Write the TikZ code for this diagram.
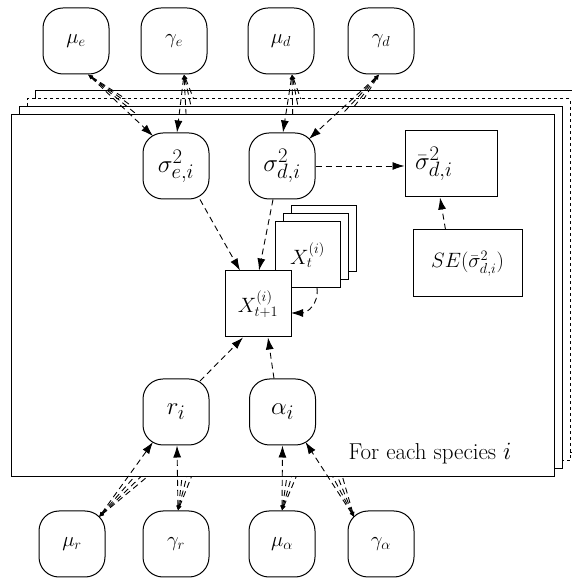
\documentclass[tikz,border=0pt]{standalone}
\usetikzlibrary{arrows.meta}
\begin{document}
\begin{tikzpicture}[x=1pt,y=1pt,
  lbf/.style={font=\Huge},
  rnode/.style={draw, line width=1pt, rounded corners=20pt, minimum width=66pt, minimum height=66pt, fill=white, inner sep=0pt, lbf},
  hnode/.style={rnode, font=\huge},
  bnode/.style={draw, line width=1pt, fill=white, inner sep=0pt, lbf},
  plate/.style={draw, line width=1pt, fill=white, minimum width=543pt, minimum height=362pt, inner sep=0pt},
  dsh/.style={line width=0.9pt, dash pattern=on 6pt off 4pt},
  main/.style={dsh, {Latex[length=5pt,width=4pt]}-{Latex[length=12pt,width=8pt]}},
  extra/.style={dsh, {Latex[length=5pt,width=4pt]}-},
  inner/.style={dsh, -{Latex[length=12pt,width=8pt]}}
]
\useasboundingbox (0,0) rectangle (571,578);
% hyper-parameter nodes
\node[hnode] (mue)  at (76,537)  {$\mu_e$};
\node[hnode] (game) at (174,537) {$\gamma_e$};
\node[hnode] (mud)  at (281,537) {$\mu_d$};
\node[hnode] (gamd) at (381,537) {$\gamma_d$};
\node[hnode] (mur)  at (72,34)   {$\mu_r$};
\node[hnode] (gamr) at (176,34)  {$\gamma_r$};
\node[hnode] (mua)  at (282,34)  {$\mu_\alpha$};
\node[hnode] (gama) at (381,34)  {$\gamma_\alpha$};
\coordinate (mueT)  at ([xshift=12pt]mue.south);
\coordinate (gameT) at ([xshift=10pt]game.south);
\coordinate (mudT)  at ([xshift=11pt]mud.south);
\coordinate (gamdT) at ([xshift=-2pt]gamd.south);
\coordinate (murT)  at ([shift={(27,27)}]mur.center);
\coordinate (gamrT) at ([xshift=2pt]gamr.north);
\coordinate (muaT)  at (mua.north);
\coordinate (gamaT) at ([shift={(-27,27)}]gama.center);
% back plates with their connectors
\foreach \k/\st in {3/solid,2/dashed,1/solid}{
  \node[plate,\st] (plate\k) at ({282.5+8*\k},{282+8*\k}) {};
  \draw[extra] (mueT)  -- ({153+10*\k},{442});
  \draw[extra] (gameT) -- ({177+10*\k},{445});
  \draw[extra] (mudT)  -- ({283+10*\k},{445});
  \draw[extra] (gamdT) -- ({309+10*\k},{439});
  \draw[extra] (murT)  -- ({153+12*\k},{136});
  \draw[extra] (gamrT) -- ({177+9*\k},{133});
  \draw[extra] (muaT)  -- ({282.5+9*\k},{133});
  \draw[extra] (gamaT) -- ({305.5+9*\k},{136});
}
% front plate
\node[plate] (plate0) at (282.5,282) {};
\node[anchor=base east, font=\fontsize{23}{27}\selectfont] (lbl) at (515,118) {For each species $i$};
\node[rnode] (sige)  at (176,412) {$\sigma^2_{e,i}$};
\node[rnode] (sigd)  at (282,412) {$\sigma^2_{d,i}$};
\node[rnode] (ri)    at (176,166) {$r_i$};
\node[rnode] (alpha) at (282.5,166) {$\alpha_i$};
\node[bnode, minimum width=92pt, minimum height=66pt, text width=72pt, align=left] (sigbar) at (451,414) {$\bar\sigma^2_{d,i}$};
\node[bnode, font=\huge, minimum width=109pt, minimum height=67pt] (se) at (467.5,314.5) {$SE(\bar\sigma^2_{d,i})$};
\node[bnode, minimum width=65pt, minimum height=66pt] (xt3) at (323.5,339) {};
\node[bnode, minimum width=65pt, minimum height=66pt] (xt2) at (315.5,331) {};
\node[bnode, font=\huge, minimum width=65pt, minimum height=66pt] (xt)  at (307.5,323) {$X_t^{(i)}$};
\node[bnode, font=\huge, minimum width=66pt, minimum height=66pt] (xt1) at (258,274) {$X_{t+1}^{(i)}$};
% hyper connectors of the front plate
\draw[main] (mueT)  -- ([shift={(-23,30)}]sige.center);
\draw[main] (gameT) -- ([xshift=1pt]sige.north);
\draw[main] (mudT)  -- ([xshift=1pt]sigd.north);
\draw[main] (gamdT) -- ([shift={(27,27)}]sigd.center);
\draw[main] (murT)  -- ([shift={(-23,-30)}]ri.center);
\draw[main] (gamrT) -- ([xshift=1pt]ri.south);
\draw[main] (muaT)  -- (alpha.south);
\draw[main] (gamaT) -- ([shift={(23,-30)}]alpha.center);
% inner connectors
\draw[inner] ([xshift=24pt]sige.south) -- ([xshift=-18pt]xt1.north);
\draw[inner] ([xshift=-9pt]sigd.south) -- ([xshift=1pt]xt1.north);
\draw[inner] (sigd.east) -- (sigd.east -| sigbar.west);
\draw[inner] ([xshift=-22pt]se.north) -- ([xshift=-11pt]sigbar.south);
\draw[inner] ([shift={(24,31)}]ri.center) -- ([xshift=-15pt]xt1.south);
\draw[inner] ([xshift=-8.5pt]alpha.north) -- ([xshift=10pt]xt1.south);
\draw[inner] ([shift={(9.5,-33)}]xt.center) .. controls +(2,-16) and +(16,0) .. ([shift={(33,-9)}]xt1.center);
\end{tikzpicture}
\end{document}
